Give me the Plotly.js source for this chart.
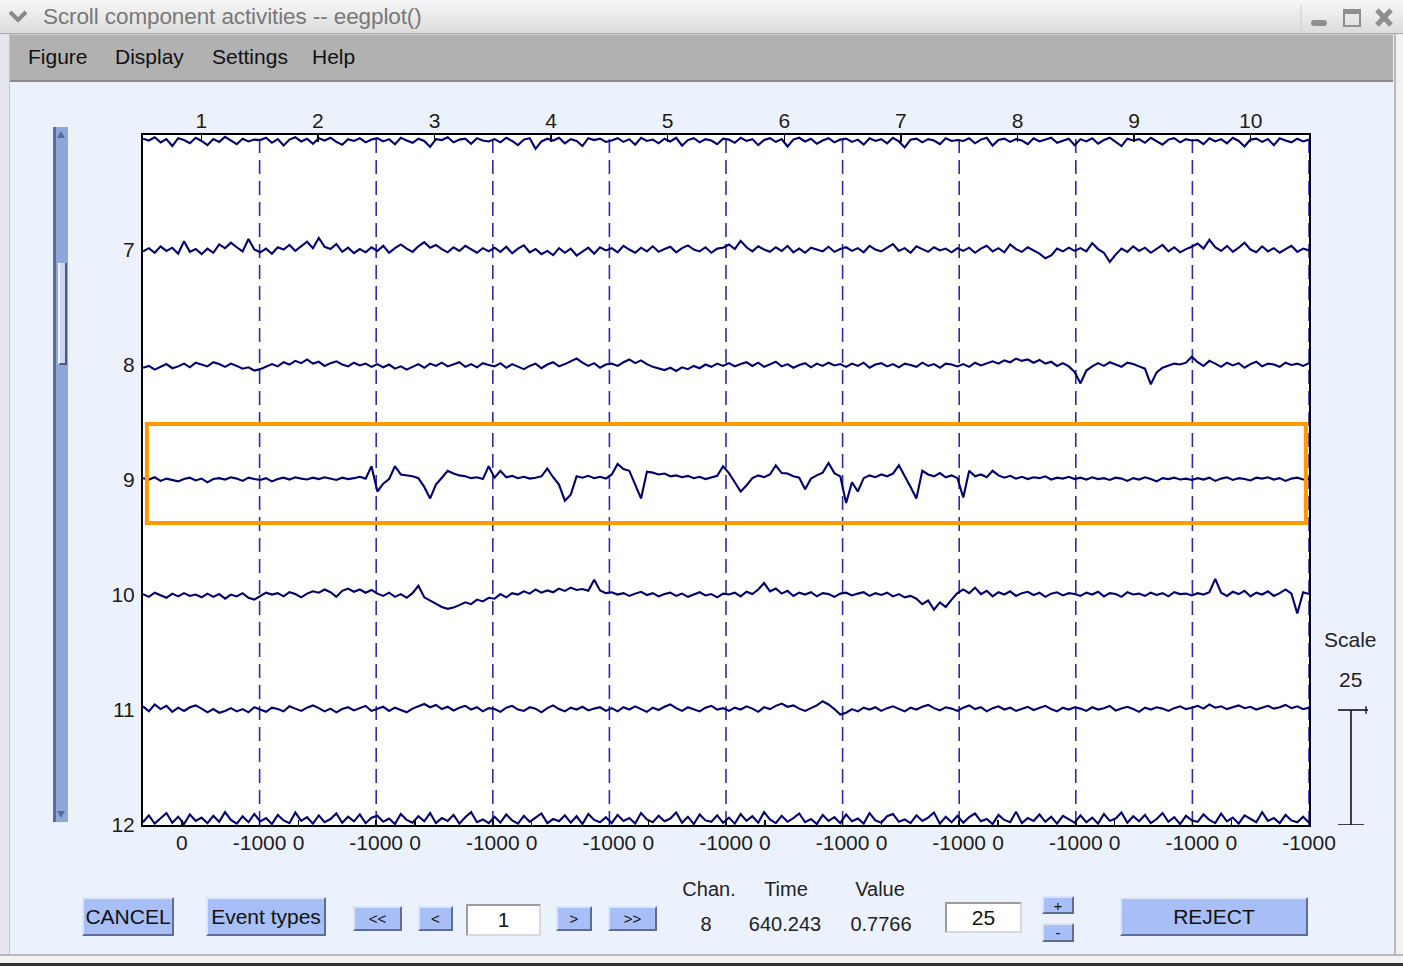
<!DOCTYPE html>
<html><head><meta charset="utf-8">
<script src="https://cdn.plot.ly/plotly-3.0.1.min.js"></script>
<style>
body{margin:0;padding:0;overflow:hidden;background:#ecf2fd;}
#win{position:relative;width:1403px;height:966px;background:#ecf2fd;font-family:"Liberation Sans",Arial,sans-serif;overflow:hidden;}
#plot{position:absolute;left:0;top:0;width:1403px;height:966px;}
.abs{position:absolute;}
#titlebar{left:0;top:0;width:1403px;height:33px;background:linear-gradient(#f7f7f7,#dcdcdc);border-bottom:1px solid #a9a9a9;}
#titletext{left:43px;top:4px;font-size:22.5px;color:#787878;letter-spacing:-0.1px;white-space:nowrap;}
#menubar{left:10px;top:34px;width:1383px;height:45px;background:#b1b1b1;border-top:1px solid #cfcfcf;border-bottom:2px solid #8a8a8a;}
.menu{position:absolute;top:10px;font-size:21px;color:#111;}
.btn{position:absolute;box-sizing:border-box;background:#a7bff6;border-top:2px solid #dbe4fb;border-left:2px solid #dbe4fb;border-right:2px solid #5e6d92;border-bottom:2px solid #5e6d92;font-size:21px;color:#111;display:flex;align-items:center;justify-content:center;white-space:nowrap;}
.small{font-size:15px;}
.edit{position:absolute;box-sizing:border-box;background:#fff;border-top:2px solid #9c9c9c;border-left:2px solid #9c9c9c;border-right:2px solid #d9d9d9;border-bottom:2px solid #d9d9d9;font-size:21px;color:#111;display:flex;align-items:center;justify-content:center;}
.lbl{position:absolute;font-size:20px;color:#222;transform:translateX(-50%);white-space:nowrap;}
</style>
</head><body>
<div id="win">
  <div id="plot"></div>
  <div class="abs" id="titlebar"></div>
  <svg class="abs" style="left:6px;top:6px" width="26" height="22"><polyline points="4,6 12,14 20,6" fill="none" stroke="#8a8a8a" stroke-width="4"/></svg>
  <div class="abs" id="titletext">Scroll component activities -- eegplot()</div>
  <svg class="abs" style="left:1300px;top:4px" width="103" height="28">
    <line x1="1" y1="0" x2="1" y2="28" stroke="#cfcfcf" stroke-width="1"/>
    <rect x="11" y="16" width="16" height="6" rx="3" fill="#8f8f8f"/>
    <rect x="44" y="6" width="16" height="16" fill="none" stroke="#8f8f8f" stroke-width="2"/>
    <rect x="44" y="5" width="16" height="5" fill="#8f8f8f"/>
    <line x1="77" y1="6" x2="91" y2="21" stroke="#8f8f8f" stroke-width="5"/>
    <line x1="91" y1="6" x2="77" y2="21" stroke="#8f8f8f" stroke-width="5"/>
  </svg>
  <div class="abs" id="menubar">
    <span class="menu" style="left:18px">Figure</span>
    <span class="menu" style="left:105px">Display</span>
    <span class="menu" style="left:202px">Settings</span>
    <span class="menu" style="left:302px">Help</span>
  </div>
  <div class="abs" style="left:0;top:34px;width:9px;height:921px;background:#e4e8ee;border-right:1px solid #c4c4c4"></div>
  <div class="abs" style="left:1394px;top:34px;width:9px;height:921px;background:#f2f2f2;border-left:2px solid #b9b9b9;border-right:2px solid #333"></div>
  <div class="abs" style="left:0;top:954px;width:1403px;height:12px;background:#f2f2f2;border-top:2px solid #b9b9b9;border-bottom:3px solid #333;box-sizing:border-box"></div>
  <!-- scroll bar -->
  <div class="abs" style="left:53px;top:127px;width:15px;height:695px;background:#8fa6d9;border-left:3px solid #5b6b98;box-sizing:border-box"></div>
  <svg class="abs" style="left:55px;top:128px" width="12" height="12"><polygon points="2,10 6,3 10,10" fill="#5b6b98"/></svg>
  <svg class="abs" style="left:55px;top:808px" width="12" height="12"><polygon points="2,3 10,3 6,10" fill="#5b6b98"/></svg>
  <div class="abs" style="left:58px;top:263px;width:9px;height:102px;background:#ccd8f3;border-left:2px solid #eef3fd;border-right:2px solid #4b5a85;border-bottom:2px solid #4b5a85;box-sizing:border-box"></div>
  <!-- bottom controls -->
  <div class="btn" style="left:82px;top:897px;width:92px;height:39px">CANCEL</div>
  <div class="btn" style="left:206px;top:897px;width:120px;height:39px">Event types</div>
  <div class="btn small" style="left:353px;top:906px;width:49px;height:25px">&lt;&lt;</div>
  <div class="btn small" style="left:418px;top:906px;width:35px;height:25px">&lt;</div>
  <div class="edit" style="left:466px;top:904px;width:75px;height:32px">1</div>
  <div class="btn small" style="left:556px;top:906px;width:36px;height:25px">&gt;</div>
  <div class="btn small" style="left:608px;top:906px;width:49px;height:25px">&gt;&gt;</div>
  <div class="lbl" style="left:709px;top:878px">Chan.</div>
  <div class="lbl" style="left:786px;top:878px">Time</div>
  <div class="lbl" style="left:880px;top:878px">Value</div>
  <div class="lbl" style="left:706px;top:913px">8</div>
  <div class="lbl" style="left:785px;top:913px">640.243</div>
  <div class="lbl" style="left:881px;top:913px">0.7766</div>
  <div class="edit" style="left:945px;top:902px;width:77px;height:31px">25</div>
  <div class="btn small" style="left:1042px;top:896px;width:32px;height:18px">+</div>
  <div class="btn small" style="left:1042px;top:923px;width:32px;height:19px">-</div>
  <div class="btn" style="left:1120px;top:897px;width:188px;height:39px">REJECT</div>
</div>
<script>
// ---------- data ----------
const scaleValue = 25;                       // µV per channel spacing
const channelNames = [6, 7, 8, 9, 10, 11, 12];
const channelTickLabels = ['12', '11', '10', '9', '8', '7'];
const channelTickValues = [0, 25, 50, 75, 100, 125];
const epochLabels = ['1','2','3','4','5','6','7','8','9','10'];
const epochCenters = [1500,4500,7500,10500,13500,16500,19500,22500,25500,28500];
const epochBoundaries = [3000,6000,9000,12000,15000,18000,21000,24000,27000,30000];
const timeTickValues = [1000,3000,4000,6000,7000,9000,10000,12000,13000,15000,16000,18000,19000,21000,22000,24000,25000,27000,28000,30000];
const timeTickLabels = ['0','-1000','0','-1000','0','-1000','0','-1000','0','-1000','0','-1000','0','-1000','0','-1000','0','-1000','0','-1000'];
const recordSpan = 30000;  // 10 epochs, -1000..2000 ms each
const selectedChannel = 9;

const ch6 = [
-0.8,-1.2,-0.5,-1.6,-0.9,-2.4,-0.7,-1.1,-1.8,-0.6,-1.3,-2.2,-0.9,-1.5,-0.4,-1.2,-2.0,-0.8,-1.4,-1.0,
-1.1,-0.6,-1.7,-0.9,-2.3,-1.0,-0.5,-1.4,-0.8,-1.9,-0.7,-1.2,-0.6,-1.5,-2.1,-0.9,-1.3,-0.7,-1.6,-1.0,
-0.7,-1.4,-0.9,-2.0,-0.6,-1.2,-1.7,-0.8,-1.3,-2.6,-0.9,-1.1,-0.5,-1.6,-1.0,-0.8,-1.9,-0.7,-1.2,-1.4,
-0.9,-1.6,-0.6,-1.3,-2.2,-1.0,-0.7,-3.0,-1.4,-0.8,-1.2,-0.6,-1.8,-0.9,-1.3,-2.4,-0.7,-1.1,-0.8,-1.5,
-1.2,-0.7,-1.5,-0.9,-2.1,-0.6,-1.3,-1.0,-1.8,-0.8,-1.4,-0.6,-2.3,-1.1,-0.7,-1.6,-0.9,-1.2,-2.0,-0.8,
-1.0,-1.7,-0.6,-1.3,-0.9,-2.2,-1.1,-0.7,-1.5,-0.9,-2.5,-1.0,-0.6,-1.4,-0.8,-1.9,-1.2,-0.7,-1.6,-1.0,
-0.8,-1.5,-1.0,-2.1,-0.7,-1.3,-0.9,-1.8,-0.6,-1.4,-2.7,-1.0,-0.8,-1.6,-0.9,-1.2,-2.0,-0.7,-1.3,-1.1,
-1.3,-0.7,-1.8,-1.0,-0.6,-2.3,-1.1,-0.8,-1.5,-0.9,-1.2,-2.0,-0.7,-1.4,-1.0,-0.6,-1.7,-1.2,-0.8,-2.2,
-0.9,-1.4,-0.7,-1.9,-1.1,-0.6,-1.5,-2.4,-0.8,-1.2,-0.9,-1.7,-0.6,-1.3,-2.1,-1.0,-0.7,-1.6,-0.9,-1.2,
-1.1,-2.0,-0.7,-1.4,-0.9,-1.8,-0.6,-1.3,-2.5,-1.0,-0.8,-1.5,-0.9,-2.2,-0.7,-1.2,-1.6,-0.8,-1.4,-1.0];

const ch7 = [
-0.3,0.4,-0.6,0.8,-0.2,0.5,-0.8,1.9,-0.4,0.2,-0.9,0.3,-0.6,1.2,0.4,1.6,0.6,-0.3,2.4,0.1,
-0.5,0.3,-0.8,0.6,0.1,1.1,-0.2,0.9,1.8,0.4,2.6,0.7,0.2,1.3,-0.4,0.5,-0.7,0.2,-0.5,0.6,
-0.2,0.9,-0.6,0.4,1.2,0.3,-0.4,0.8,1.7,0.5,1.1,0.2,-0.5,0.6,-0.2,0.9,0.1,-0.6,0.4,-0.3,
0.5,-0.4,0.7,-0.7,0.3,1.0,-0.5,0.2,-0.9,-0.2,-1.1,0.4,-0.6,0.3,-1.2,-0.3,0.5,-0.8,0.6,-0.1,
0.4,-0.5,0.9,0.1,-0.6,0.5,-0.3,0.8,-0.4,0.2,0.7,-0.5,0.4,1.0,0.1,-0.3,0.6,-0.6,0.3,0.5,
1.2,0.2,2.0,0.6,-0.3,0.8,0.1,-0.4,0.6,-0.2,0.9,-0.5,0.3,-0.6,0.5,0.1,-0.3,0.7,-0.4,0.2,
0.6,-0.2,0.4,-0.5,0.9,0.1,-0.3,0.5,1.3,-0.2,0.4,-0.6,0.8,0.2,-0.4,0.6,-0.1,0.3,-0.5,0.4,
-0.2,0.5,-0.6,0.3,0.9,-0.3,0.4,-0.5,1.2,0.2,-0.4,0.6,-0.1,-0.8,-1.8,-1.2,0.3,-0.3,0.5,-0.2,
0.4,-0.3,1.5,0.2,-0.6,-2.6,-1.0,0.3,-0.4,0.8,-0.2,0.5,-0.6,0.3,1.1,-0.3,0.6,-0.5,0.2,0.7,
1.4,0.3,2.2,0.6,-0.2,0.9,-0.4,0.5,1.6,0.1,-0.5,0.8,-0.3,0.4,-0.6,0.2,0.9,-0.4,0.3,-0.1];

const ch8 = [
-0.6,-0.2,-1.0,-0.4,0.2,-0.7,-0.3,0.3,-0.5,0.5,0.1,-0.3,0.6,0.2,-0.4,0.3,-0.2,-0.8,-0.5,-1.2,
-0.9,-0.4,0.2,-0.3,0.6,0.1,0.9,0.4,1.2,0.3,0.7,-0.2,0.4,0.8,0.1,-0.3,0.5,-0.1,0.3,-0.4,
0.2,-0.5,0.1,-0.8,-0.3,-1.0,-0.4,0.2,-0.6,0.3,-0.2,0.5,-0.3,0.1,0.6,-0.4,0.2,-0.5,0.4,0.0,
-0.3,0.4,-0.6,0.2,-0.4,-0.9,-0.2,0.3,-0.7,0.1,0.6,-0.3,0.2,0.8,1.4,0.5,-0.2,0.4,-0.6,0.1,
0.3,-0.2,0.6,1.2,0.4,1.0,0.2,-0.4,-0.8,-1.1,-0.6,-1.3,-0.5,-0.9,-0.2,-0.7,0.1,-0.4,0.3,-0.2,
0.4,-0.3,0.2,0.6,-0.2,0.5,-0.4,0.1,0.7,-0.3,0.2,-0.6,0.0,0.4,-0.5,0.3,-0.2,0.5,-0.1,0.2,
-0.4,0.3,-0.2,0.5,-0.6,0.1,0.4,-0.3,0.2,-0.5,0.3,0.0,-0.4,0.5,-0.2,0.2,-0.6,0.3,0.1,-0.3,
0.2,-0.4,0.5,-0.1,0.4,0.8,0.3,1.0,0.6,1.4,0.9,1.2,0.5,1.1,0.3,0.7,-0.2,0.4,-0.3,-1.5,
-4.0,-1.2,-0.3,0.4,-0.2,0.6,0.1,-0.4,0.5,0.2,-0.3,-0.8,-4.2,-1.6,-0.6,-0.2,0.3,0.1,0.5,1.8,
0.6,-0.2,0.9,0.3,-0.4,0.5,-0.1,0.4,-0.6,0.2,0.7,-0.3,0.3,0.1,-0.4,0.5,0.0,0.3,-0.2,0.4];

const ch9 = [
0.4,0.1,0.6,-0.2,0.3,0.0,-0.3,0.2,0.5,-0.1,0.3,-0.5,0.2,0.4,0.1,0.6,0.3,-0.2,0.5,0.2,
0.0,0.4,-0.3,0.2,0.5,0.1,0.6,0.3,0.1,0.5,0.2,0.6,0.3,0.0,0.5,0.2,0.4,0.7,0.3,3.0,
-2.5,-0.8,0.2,3.0,1.2,1.0,0.8,0.4,-1.5,-4.0,-1.0,0.5,2.0,1.4,1.0,0.8,0.4,0.6,0.2,3.0,
0.5,2.0,0.6,0.9,0.4,0.7,0.3,0.5,0.8,2.5,0.6,-1.0,-4.5,-3.2,0.8,0.5,0.9,0.4,0.7,0.3,
1.2,3.5,2.4,2.0,-1.0,-4.0,1.8,1.6,1.2,1.4,0.8,1.0,0.6,0.9,0.4,0.7,0.2,0.6,0.9,3.0,
1.5,-0.5,-2.5,-1.2,0.4,1.0,0.6,1.2,3.2,1.5,1.4,0.8,0.5,-2.0,0.3,1.0,1.6,3.7,1.5,0.8,
-5.0,-0.5,-2.5,0.4,1.0,0.6,1.2,0.8,1.4,3.2,1.0,-1.5,-4.0,2.0,1.2,0.8,1.5,0.6,1.0,0.4,
-3.8,2.0,0.8,1.2,0.6,2.0,1.0,0.5,0.9,0.3,0.7,0.2,0.6,0.4,0.8,0.1,0.5,0.3,0.7,0.2,
0.5,0.1,0.6,0.2,0.4,0.0,0.5,0.3,-0.2,0.4,0.1,0.6,0.2,-0.3,0.4,0.2,0.5,0.1,0.3,0.0,
0.4,0.1,0.5,-0.2,0.3,0.6,0.0,0.4,0.2,-0.1,0.5,0.3,0.6,0.1,0.4,-0.2,0.3,0.5,0.1,0.3];

const ch10 = [
0.2,-0.4,0.5,-0.1,-0.6,0.3,-0.3,0.4,-0.2,0.1,-0.5,0.3,-0.4,0.2,-0.8,0.1,-0.3,0.4,-0.6,-1.0,
-0.2,0.5,0.1,0.4,-0.3,0.6,0.2,-0.5,0.3,0.8,0.5,1.2,0.6,-0.4,0.9,1.4,0.7,1.2,0.5,1.1,
0.3,-0.2,0.5,-0.4,0.2,-0.6,0.4,2.0,-0.5,-1.2,-1.8,-2.6,-3.0,-2.7,-2.2,-1.6,-2.0,-1.0,-1.4,-0.6,
-0.8,0.2,-0.5,0.4,0.1,0.8,0.3,1.2,0.5,1.0,0.6,1.4,0.9,1.6,1.1,1.3,0.9,3.3,1.0,0.4,
0.6,0.1,0.4,-0.2,0.3,0.7,0.0,0.4,-0.3,0.2,0.5,-0.2,0.3,-0.4,0.1,0.6,-0.1,0.2,-0.5,0.3,
0.1,0.5,-0.3,0.7,0.2,1.2,2.6,0.8,1.4,0.3,0.9,-0.2,0.5,0.1,0.6,-0.3,0.4,0.2,-0.4,0.3,
0.5,-0.1,0.3,0.6,-0.2,0.4,0.0,0.5,-0.3,0.2,-0.5,-0.2,-0.8,-2.0,-1.2,-3.2,-1.6,-2.6,-1.0,0.4,
1.2,0.4,1.6,0.2,0.9,-0.3,0.6,0.1,0.8,-0.2,0.4,0.7,0.0,0.5,-0.4,0.3,0.6,-0.1,0.4,0.2,
-0.2,0.5,0.1,0.7,-0.3,0.4,0.2,-0.4,0.6,0.1,0.3,-0.2,0.5,0.0,0.4,-0.3,0.6,0.2,0.3,-0.1,
0.4,0.1,0.6,3.5,0.5,-0.2,0.7,0.2,0.9,-0.3,0.5,0.1,0.8,-0.2,0.4,1.2,0.3,-4.0,0.6,0.2];

const ch11 = [
0.8,-0.3,1.2,0.2,0.9,-0.4,0.5,-0.2,0.6,1.0,0.3,-0.5,0.2,-0.6,-0.2,0.4,-0.3,0.2,-0.5,0.6,
0.1,-0.4,0.5,0.2,-0.3,0.8,0.3,-0.2,0.5,1.0,0.4,-0.3,0.3,-0.5,0.2,0.6,-0.1,0.4,0.9,-0.2,
0.3,0.7,-0.2,0.5,0.0,-0.5,0.3,0.8,1.3,0.6,1.1,0.2,0.7,-0.1,0.5,0.9,0.1,0.6,-0.3,0.4,
0.2,-0.4,0.5,0.9,0.1,-0.2,0.6,0.3,-0.5,0.4,1.0,0.2,-0.3,0.5,0.1,0.7,-0.1,0.3,0.6,-0.2,
0.4,-0.3,0.6,0.1,0.8,0.2,-0.4,0.5,0.0,0.7,1.2,0.4,-0.2,0.6,0.2,-0.3,0.5,0.9,0.1,0.4,
-0.2,0.5,0.1,0.8,0.3,-0.4,0.6,0.2,0.9,1.4,0.7,1.0,0.3,-0.2,0.4,1.0,1.9,1.2,0.2,-1.0,
-0.6,0.2,-0.3,0.5,0.1,0.6,-0.2,0.4,0.8,0.2,-0.3,0.5,0.1,0.7,1.1,0.4,-0.1,0.6,0.3,-0.2,
0.5,1.0,0.2,0.6,-0.3,0.4,0.8,0.1,0.5,-0.2,0.3,0.7,0.0,0.4,0.9,0.2,-0.3,0.5,0.1,0.6,
0.3,-0.2,0.6,0.1,0.4,0.9,-0.1,0.3,0.7,0.2,-0.4,0.5,0.1,0.6,0.3,-0.2,0.4,0.8,0.2,0.5,
0.9,0.3,1.2,0.5,0.8,0.2,0.6,1.0,0.4,0.7,0.1,0.5,0.9,0.3,0.6,1.1,0.4,0.8,0.2,0.5];

const ch12 = [
0.6,2.1,0.3,1.4,2.6,0.5,1.8,0.2,2.3,0.9,1.6,0.4,2.0,0.7,2.8,1.1,0.3,1.9,0.6,2.4,
0.8,1.5,0.2,2.2,1.0,0.4,2.7,0.9,1.7,0.3,2.1,0.6,1.3,2.5,0.5,1.8,0.8,2.3,0.4,1.6,
2.0,0.7,1.4,0.2,2.4,1.1,0.5,1.9,0.8,2.6,0.4,1.5,0.9,2.2,0.3,1.7,2.8,0.6,1.2,0.4,
1.8,0.5,2.3,1.0,0.3,2.0,0.7,1.6,2.5,0.4,1.3,0.8,2.1,0.5,1.9,0.2,2.4,1.1,0.6,1.7,
0.4,2.2,0.9,1.5,0.3,2.6,1.2,0.6,2.0,0.8,1.4,2.7,0.5,1.8,0.2,2.3,1.0,0.7,2.1,0.5,
1.6,0.3,2.4,0.9,1.9,0.5,2.8,1.2,0.4,2.0,0.7,1.5,2.5,0.6,1.3,0.2,2.2,0.9,1.7,0.4,
2.3,0.8,1.4,0.3,2.6,1.0,0.5,1.9,2.4,0.7,1.2,0.4,2.1,0.9,1.6,2.7,0.3,1.8,0.6,2.0,
0.5,1.7,2.5,0.8,1.3,0.2,2.2,1.1,0.6,2.9,0.4,1.5,0.9,2.3,0.7,1.8,0.3,2.0,1.2,0.5,
2.1,0.6,1.6,0.3,2.4,0.9,1.4,2.7,0.5,1.9,0.8,2.2,0.4,1.3,2.6,0.7,1.7,0.2,2.0,1.0,
0.7,2.3,1.1,0.4,2.5,0.8,1.6,0.3,2.1,1.3,0.6,2.8,0.9,1.5,0.4,2.2,1.0,0.6,1.8,0.5];

const channelData = [ch6, ch7, ch8, ch9, ch10, ch11, ch12];

// ---------- styles ----------
const traceColor = '#00006e';
const dashColor = '#2c2caa';
const font = 'Liberation Sans, Arial, sans-serif';

const traces = channelData.map((vals, k) => {
  const offset = (12 - channelNames[k]) * scaleValue;
  const step = recordSpan / (vals.length - 1);
  return {
    type: 'scatter', mode: 'lines',
    x: vals.map((v, i) => i * step),
    y: vals.map(v => v + offset),
    line: {color: traceColor, width: 2.1},
    hoverinfo: 'skip', showlegend: false
  };
});
traces.push({type:'scatter', mode:'lines', x:[0, recordSpan], y:[null, null], xaxis:'x2', yaxis:'y', hoverinfo:'skip', showlegend:false});

const shapes = epochBoundaries.map(b => ({
  type:'line', xref:'x', yref:'paper', x0:b, x1:b, y0:0, y1:1,
  line:{color:dashColor, width:1.6, dash:'14px,7px'}, layer:'below'
}));
// selected channel highlight
const selOff = (12 - selectedChannel) * scaleValue;
shapes.push({type:'rect', xref:'x', yref:'y', x0:100, x1:29920, y0:selOff - 9.35, y1:selOff + 12.2,
  line:{color:'#ff9900', width:4}, fillcolor:'rgba(0,0,0,0)', layer:'above'});
// scale bar
shapes.push({type:'line', xref:'paper', yref:'y', x0:1.036, x1:1.036, y0:0, y1:scaleValue, line:{color:'#111', width:1.6}});
shapes.push({type:'line', xref:'paper', yref:'y', x0:1.0249, x1:1.0506, y0:scaleValue, y1:scaleValue, line:{color:'#111', width:1.6}});
shapes.push({type:'line', xref:'paper', yref:'y', x0:1.0489, x1:1.0489, y0:scaleValue-0.8, y1:scaleValue+0.8, line:{color:'#111', width:1.4}});
shapes.push({type:'line', xref:'paper', yref:'y', x0:1.0249, x1:1.0472, y0:0, y1:0, line:{color:'#111', width:1.6}});

const annotations = [
  {xref:'paper', yref:'y', x:1.0352, y:40.4, xanchor:'center', yanchor:'middle', text:'Scale', showarrow:false, font:{family:font, size:21, color:'#222'}},
  {xref:'paper', yref:'y', x:1.0352, y:31.7, xanchor:'center', yanchor:'middle', text:String(scaleValue), showarrow:false, font:{family:font, size:21, color:'#222'}}
];

const layout = {
  width:1403, height:966,
  margin:{l:143, r:94, t:135, b:141, pad:0},
  paper_bgcolor:'rgba(0,0,0,0)', plot_bgcolor:'#ffffff',
  showlegend:false,
  font:{family:font, size:21, color:'#1c1c1c'},
  xaxis:{range:[0, recordSpan], tickmode:'array', tickvals:timeTickValues, ticktext:timeTickLabels,
    ticks:'inside', ticklen:5, tickcolor:'#000', tickwidth:1.5, showline:true, linecolor:'#000', linewidth:2,
    showgrid:false, zeroline:false, fixedrange:true, ticklabelstandoff:-2},
  xaxis2:{overlaying:'x', side:'top', anchor:'y', range:[0, recordSpan], tickmode:'array', tickvals:epochCenters, ticktext:epochLabels,
    ticks:'inside', ticklen:7, tickcolor:'#000', tickwidth:1.5, showline:true, linecolor:'#000', linewidth:2,
    showgrid:false, zeroline:false, fixedrange:true, ticklabelstandoff:-3},
  yaxis:{range:[0, 6*scaleValue], tickmode:'array', tickvals:channelTickValues, ticktext:channelTickLabels,
    ticks:'', showline:true, linecolor:'#000', linewidth:2, mirror:true, showgrid:false, zeroline:false,
    fixedrange:true, ticklabelstandoff:2},
  shapes:shapes, annotations:annotations
};

Plotly.newPlot('plot', traces, layout, {displayModeBar:false, staticPlot:true});
</script>
</body></html>
